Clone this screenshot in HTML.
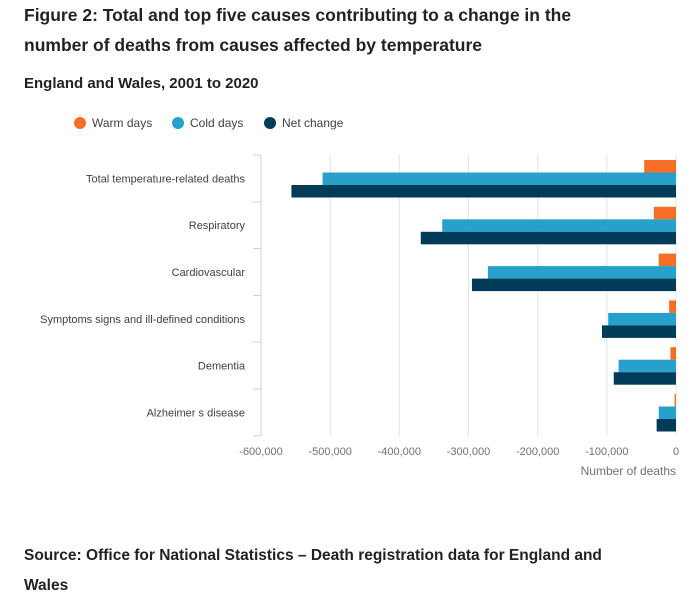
<!DOCTYPE html>
<html><head><meta charset="utf-8"><style>
body{margin:0;background:#fff;width:700px;height:615px;overflow:hidden;font-family:"Liberation Sans",sans-serif;color:#222}
.t{position:absolute;left:24px;font-weight:bold;color:#222}
</style></head><body>
<div class="t" style="top:0px;font-size:17.5px;line-height:30px;width:600px">Figure 2: Total and top five causes contributing to a change in the number of deaths from causes affected by temperature</div>
<div class="t" style="top:75px;font-size:15px">England and Wales, 2001 to 2020</div>
<svg id="c" width="700" height="615" style="position:absolute;left:0;top:0"></svg>
<div class="t" style="top:541px;font-size:15.5px;line-height:30px;width:620px">Source: Office for National Statistics – Death registration data for England and Wales</div>
<script>
const categories=["Total temperature-related deaths","Respiratory","Cardiovascular","Symptoms signs and ill-defined conditions","Dementia","Alzheimer s disease"];
const warmDays=[-46000,-32000,-25000,-10000,-8000,-2000];
const coldDays=[-511000,-338000,-272000,-98000,-83000,-25000];
const netChange=[-556000,-369000,-295000,-107000,-90000,-28000];
const xTicks=[-600000,-500000,-400000,-300000,-200000,-100000,0];
const xTickLabels=["-600,000","-500,000","-400,000","-300,000","-200,000","-100,000","0"];
const series=[{name:"Warm days",vals:warmDays,color:"#f66d26"},{name:"Cold days",vals:coldDays,color:"#27a0cc"},{name:"Net change",vals:netChange,color:"#003c57"}];
const svg=document.getElementById('c');const NS="http://www.w3.org/2000/svg";
function mk(t,a,txt){const e=document.createElementNS(NS,t);for(const k in a)e.setAttribute(k,a[k]);if(txt!=null)e.textContent=txt;svg.appendChild(e);return e;}
const x0=261,x1=676,yTop=155,band=46.8,bh=12.5;
const xs=v=>x1+(v/600000)*(x1-x0);
const yb=i=>yTop+i*band;
xTicks.forEach((v,i)=>{
 const g=mk('line',{x1:xs(v),x2:xs(v),y1:yTop,y2:yTop+band*6,stroke:"#e4e4e4","stroke-width":1});
 
 
 const t=mk('text',{x:xs(v),y:455,"text-anchor":"middle","font-size":11,fill:"#707070"},xTickLabels[i]);
 
 
});
const ax=mk('line',{x1:x0,x2:x0,y1:yTop,y2:yTop+band*6,stroke:"#ccd3e0","stroke-width":1});


for(let i=0;i<=6;i++){const tk=mk('line',{x1:x0-8,x2:x0,y1:yb(i),y2:yb(i),stroke:"#ccd3e0"});
 
 }
categories.forEach((c,i)=>{
 const t=mk('text',{x:245,y:yb(i)+band/2+4,"text-anchor":"end","font-size":11,fill:"#414042"},c);
 
 
 series.forEach((s,j)=>{
  const v=s.vals[i];
  const r=mk('rect',{x:xs(v),y:yb(i)+5+j*bh,width:x1-xs(v),height:bh,fill:s.color});
  
  
 });
});
const xt=mk('text',{x:676,y:475,"text-anchor":"end","font-size":12,fill:"#707070"},"Number of deaths");


const lx=[80,178,270];
series.forEach((s,j)=>{
 const c=mk('circle',{cx:lx[j],cy:123,r:6,fill:s.color});
 
 
 const t=mk('text',{x:lx[j]+12,y:127,"font-size":12,fill:"#414042"},s.name);
 
 
});
</script>
</body></html>
